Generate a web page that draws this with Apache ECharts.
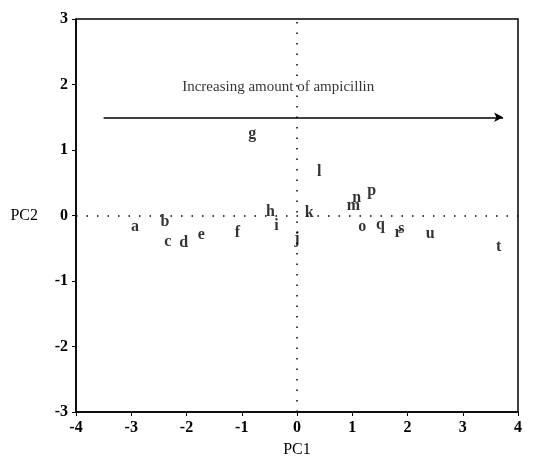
<!DOCTYPE html>
<html><head><meta charset="utf-8">
<script src="https://cdn.jsdelivr.net/npm/echarts@6/dist/echarts.min.js"></script>
<style>html,body{margin:0;padding:0;background:#fff}#c{width:534px;height:465px}</style>
</head><body><div id="c"></div>
<script>
const labels = ['a','b','c','d','e','f','g','h','i','j','k','l','m','n','o','p','q','r','s','t','u'];
const pc1 = [-2.93,-2.39,-2.34,-2.05,-1.73,-1.08,-0.81,-0.48,-0.37,0.00,0.22,0.40,1.02,1.08,1.18,1.35,1.51,1.83,1.89,3.65,2.41];
const pc2 = [-0.18,-0.09,-0.40,-0.42,-0.29,-0.27,1.24,0.06,-0.16,-0.35,0.04,0.67,0.14,0.27,-0.18,0.37,-0.15,-0.26,-0.21,-0.48,-0.28];
const xTicks = [-4,-3,-2,-1,0,1,2,3,4];
const yTicks = [-3,-2,-1,0,1,2,3];
const arrowStart = [-3.5, 1.5];
const arrowEnd = [3.73, 1.5];
const noteText = 'Increasing amount of ampicillin';
const notePos = [-0.34, 1.96];

const FONT = '"Liberation Serif", "DejaVu Serif", serif';
const chart = echarts.init(document.getElementById('c'));
chart.setOption({
  animation: false,
  backgroundColor: '#fff',
  grid: {left: 76, right: 16, top: 19, bottom: 53, show: true, borderColor: '#000', borderWidth: 1.5, backgroundColor: 'transparent'},
  xAxis: {
    type: 'value', min: xTicks[0], max: xTicks[xTicks.length-1], interval: 1,
    name: 'PC1', nameLocation: 'middle', nameGap: 30,
    nameTextStyle: {fontFamily: FONT, fontSize: 16, color: '#000'},
    axisLine: {onZero: false, lineStyle: {color: '#000', width: 1.5}},
    axisTick: {show: true, length: 4, lineStyle: {color: '#000'}},
    axisLabel: {fontFamily: FONT, fontSize: 16, fontWeight: 'bold', color: '#000', margin: 8},
    splitLine: {show: false}
  },
  yAxis: {
    type: 'value', min: yTicks[0], max: yTicks[yTicks.length-1], interval: 1,
    name: 'PC2', nameLocation: 'middle', nameGap: 38, nameRotate: 0,
    nameTextStyle: {fontFamily: FONT, fontSize: 16, color: '#000'},
    axisLine: {onZero: false, lineStyle: {color: '#000', width: 1.5}},
    axisTick: {show: true, length: 4, lineStyle: {color: '#000'}},
    axisLabel: {fontFamily: FONT, fontSize: 16, fontWeight: 'bold', color: '#000', margin: 8},
    splitLine: {show: false}
  },
  series: [
    {
      type: 'scatter',
      symbolSize: 1,
      itemStyle: {color: 'rgba(0,0,0,0)'},
      data: labels.map((l, i) => ({value: [pc1[i], pc2[i]], name: l})),
      label: {show: true, position: 'inside', formatter: p => p.name, fontFamily: FONT, fontSize: 16, fontWeight: 'bold', color: '#000'},
      emphasis: {disabled: true},
      markLine: {
        silent: true, symbol: ['none','none'], label: {show: false},
        lineStyle: {color: '#000', type: [1.5, 9], width: 1.5},
        data: [{xAxis: 0}, {yAxis: 0}]
      },
      z: 3
    },
    {
      type: 'scatter',
      symbolSize: 1,
      itemStyle: {color: 'rgba(0,0,0,0)'},
      data: [{value: notePos, name: noteText}],
      label: {show: true, position: 'inside', formatter: p => p.name, fontFamily: FONT, fontSize: 15, color: '#000'},
      emphasis: {disabled: true},
      markLine: {
        silent: true, symbol: ['none','arrow'], symbolSize: [7, 9], label: {show: false},
        lineStyle: {color: '#000', type: 'solid', width: 1.5},
        data: [[{coord: arrowStart}, {coord: arrowEnd}]]
      }
    }
  ]
});
</script></body></html>
